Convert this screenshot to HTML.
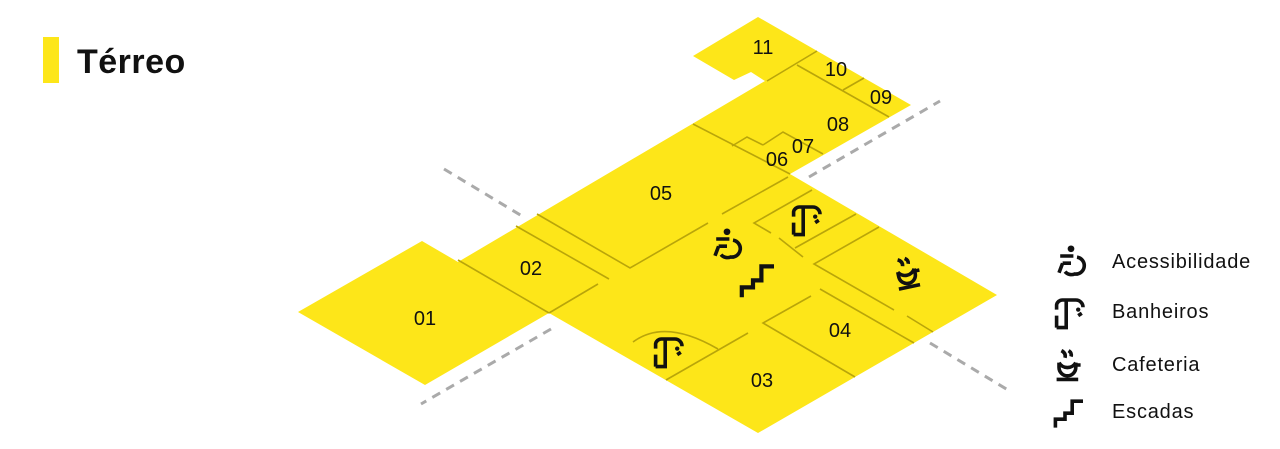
<!DOCTYPE html>
<html><head><meta charset="utf-8"><style>
html,body{margin:0;padding:0;background:#fff;}
body{width:1280px;height:449px;overflow:hidden;position:relative;font-family:"Liberation Sans",sans-serif;}
svg{position:absolute;left:0;top:0;}
</style></head><body>
<svg width="1280" height="449" viewBox="0 0 1280 449">
<defs>
<g id="wc" fill="none" stroke="#111" stroke-width="3">
 <circle cx="0" cy="-11" r="2.8" fill="#111" stroke="none"/>
 <path d="M-9,-5 H2 M-7,1 H0 M-7,1 L-10,9"/>
 <path d="M5,-4 A7,7 0 0 1 3,10 A7,7 0 0 1 -5,8"/>
</g>
<g id="toilet" fill="none" stroke="#111" stroke-width="3">
 <path d="M-12,13 V3 M-12,13 H-4 V-9 M-12,-2 V-6 A5,5 0 0 1 -7,-10 H4 A6,6 0 0 1 10,-4"/>
 <circle cx="6" cy="-2" r="1.8" fill="#111" stroke="none"/>
 <path d="M6,3 L9,1"/>
</g>
<g id="cafe" fill="none" stroke="#111" stroke-width="3">
 <path d="M-12,12 H6 M-10,-2 A8,8 0 0 0 4,-2 M-10,-2 V2 A7,7 0 0 0 4,2 V-2 M5,0 h3"/>
 <path d="M-8,-12 q4,2 3,6 M-2,-12 q3,2 2,5"/>
</g>
<g id="stairs" fill="none" stroke="#111" stroke-width="3">
 <path d="M-13,13 V6 H-5 V1 H1 V-9 H10"/>
</g>
</defs>
<g stroke="#aaa" stroke-width="3" stroke-dasharray="9,7" fill="none">
 <line x1="444" y1="169" x2="522" y2="216"/>
 <line x1="809" y1="177" x2="940" y2="101"/>
 <line x1="551" y1="329" x2="421" y2="404"/>
 <line x1="930" y1="343" x2="1008" y2="390"/>
</g>
<polygon fill="#fde619" points="298,312 422,241 458,262 765,81 751,72 734,80 693,56 758,17 911,105 790,174 997,295 758,433 549,313 425,385"/>
<g stroke="#b9a50a" stroke-width="1.6" fill="none">
 <line x1="458" y1="260" x2="549" y2="313"/>
 <line x1="516" y1="226" x2="609" y2="279"/>
 <line x1="549" y1="313" x2="598" y2="284"/>
 <polyline points="537,214 630,268 708,223"/>
 <line x1="722" y1="214" x2="788" y2="177"/>
 <line x1="693" y1="124" x2="790" y2="174"/>
 <polyline points="732,146 747,137 763,145"/>
 <polyline points="763,145 783,132 823,154"/>
 <line x1="817" y1="51" x2="767" y2="81"/>
 <line x1="797" y1="65" x2="889" y2="117"/>
 <line x1="864" y1="78" x2="843" y2="90"/>
 <polyline points="812,190 754,223 771,233"/>
 <line x1="779" y1="238" x2="803" y2="257"/>
 <line x1="856" y1="214" x2="795" y2="248"/>
 <polyline points="879,227 814,264 894,310"/>
 <line x1="907" y1="316" x2="933" y2="332"/>
 <line x1="820" y1="289" x2="914" y2="343"/>
 <polyline points="811,296 763,323 855,377"/>
 <line x1="748" y1="333" x2="666" y2="380"/>
 <path d="M633,342 Q665,318 718,349"/>
</g>
<g font-size="20" fill="#111" text-anchor="middle">
 <text x="425" y="325">01</text>
 <text x="531" y="275">02</text>
 <text x="661" y="200">05</text>
 <text x="763" y="54">11</text>
 <text x="836" y="76">10</text>
 <text x="881" y="104">09</text>
 <text x="838" y="131">08</text>
 <text x="803" y="153">07</text>
 <text x="777" y="166">06</text>
 <text x="840" y="337">04</text>
 <text x="762" y="387">03</text>
</g>
<g transform="translate(727,245) scale(1.2)"><use href="#wc"/></g>
<g transform="translate(760,279) scale(1.4)"><use href="#stairs"/></g>
<g transform="translate(808,219) scale(1.2)"><use href="#toilet"/></g>
<g transform="translate(670,351) scale(1.2)"><use href="#toilet"/></g>
<g transform="translate(910,272) rotate(-12) scale(1.2)"><use href="#cafe"/></g>
<g transform="translate(1071,262) scale(1.2)"><use href="#wc"/></g>
<g transform="translate(1071,312) scale(1.2)"><use href="#toilet"/></g>
<g transform="translate(1071,365) scale(1.2)"><use href="#cafe"/></g>
<g transform="translate(1071,412) scale(1.2)"><use href="#stairs"/></g>
<g font-size="20" fill="#111" letter-spacing="0.8">
 <text x="1112" y="268">Acessibilidade</text>
 <text x="1112" y="318">Banheiros</text>
 <text x="1112" y="371">Cafeteria</text>
 <text x="1112" y="418">Escadas</text>
</g>
<rect x="43" y="37" width="16" height="46" fill="#fde619"/>
<text x="77" y="73" font-size="34" font-weight="bold" fill="#111" letter-spacing="0.5">Térreo</text>
</svg>
</body></html>
